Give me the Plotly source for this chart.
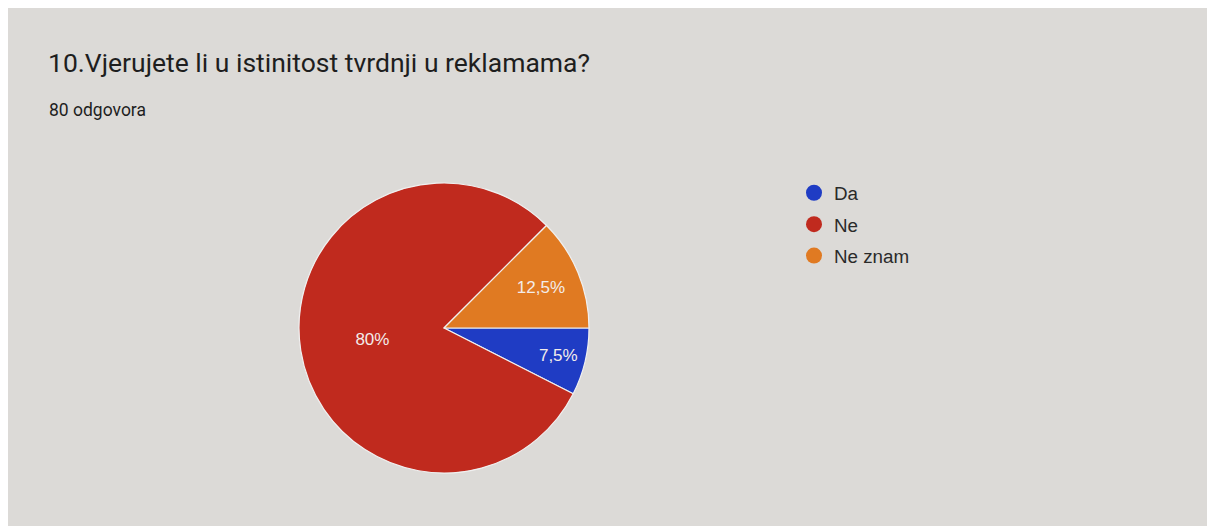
import plotly.graph_objects as go

categories = ["Da", "Ne", "Ne znam"]
values = [6, 64, 10]
slice_labels = ["7,5%", "80%", "12,5%"]
colors = ["#1f3cc4", "#c02a1e", "#e07a22"]
title = "10.Vjerujete li u istinitost tvrdnji u reklamama?"
subtitle = "80 odgovora"

W, H = 1215, 526
OX, OY = 8, 8  # page offset of the plot inside the browser window

fig = go.Figure()
fig.add_trace(go.Pie(
    labels=categories, values=values, text=slice_labels,
    texttemplate="%{text}", textposition="inside",
    insidetextorientation="horizontal",
    textfont=dict(family="Liberation Sans, Arial", size=17, color="#f3ecea"),
    marker=dict(colors=colors, line=dict(color="#f0f0f0", width=1.2)),
    sort=False, direction="clockwise", rotation=90,
    showlegend=False, hoverinfo="label+percent",
    domain=dict(x=[(299 - OX) / W, (589 - OX) / W],
                y=[1 - (473 - OY) / H, 1 - (183 - OY) / H]),
))

for i, (c, col) in enumerate(zip(categories, colors)):
    fig.add_trace(go.Scatter(
        x=[None], y=[None], mode="markers", name=c,
        legendgroup=f"g{i}",
        marker=dict(symbol="circle", size=19, color=col),
        showlegend=True,
    ))

fig.update_layout(
    width=W, height=H,
    margin=dict(l=0, r=0, t=0, b=0),
    paper_bgcolor="#dcdad7",
    plot_bgcolor="rgba(0,0,0,0)",
    xaxis=dict(visible=False), yaxis=dict(visible=False),
    legend=dict(
        x=(794 - OX) / W, y=1 - (174 - OY) / H, xanchor="left", yanchor="top",
        font=dict(family="Liberation Sans, Arial", size=18.8, color="#2a2a2a"),
        bgcolor="rgba(0,0,0,0)", tracegroupgap=4, itemsizing="trace",
    ),
    annotations=[
        dict(text=title, x=(46 - OX) / W, y=1 - (45 - OY) / H, xref="paper", yref="paper",
             xanchor="left", yanchor="top", showarrow=False,
             font=dict(family="Roboto", size=26.5, color="#1e1e1e")),
        dict(text=subtitle, x=(47 - OX) / W, y=1 - (98 - OY) / H, xref="paper", yref="paper",
             xanchor="left", yanchor="top", showarrow=False,
             font=dict(family="Roboto", size=17.5, color="#1e1e1e")),
    ],
)

fig.write_html("out.html")
